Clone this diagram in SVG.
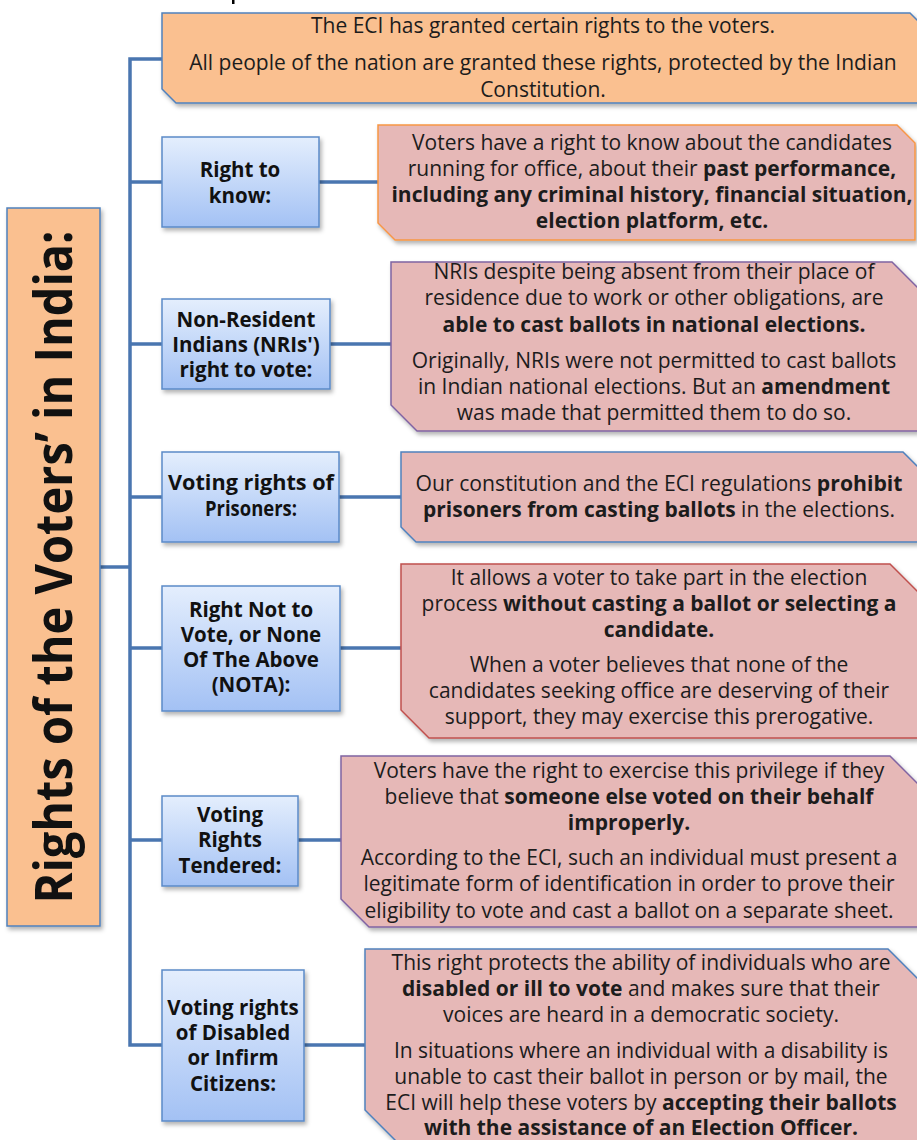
<svg xmlns="http://www.w3.org/2000/svg" width="917" height="1140" viewBox="0 0 917 1140">
<style>
.t{font-family:"Open Sans","Noto Sans","Liberation Sans",sans-serif;font-size:21px;fill:#1c1c1c;text-anchor:middle}
.b{font-weight:bold}
.lb{font-family:"Open Sans","Noto Sans","Liberation Sans",sans-serif;font-size:20.5px;font-weight:bold;fill:#111;text-anchor:middle}
.lab{fill:url(#blueg);stroke:#5B8AC8;stroke-width:1.5}
.desc{fill:#E6B8B7;stroke-width:1.5}
.con{fill:none;stroke:#4A76B0;stroke-width:3.5}
</style>
<defs>
<linearGradient id="blueg" x1="0" y1="0" x2="0" y2="1">
<stop offset="0" stop-color="#E4EEFD"/>
<stop offset="1" stop-color="#A3C1F4"/>
</linearGradient>
<filter id="sh" x="-10%" y="-10%" width="130%" height="130%">
<feDropShadow dx="2" dy="3" stdDeviation="2" flood-color="#000" flood-opacity="0.3"/>
</filter>
</defs>
<rect x="232" y="0" width="2.5" height="4" fill="#000"/>
<g id="connectors">
<path class="con" d="M162,59 H130 V1045 H162"/>
<path class="con" d="M100,567 H130"/>
<path class="con" d="M130,182 H162 M319,182 H378"/>
<path class="con" d="M130,344 H162 M330,344 H391"/>
<path class="con" d="M130,497 H162 M339,497 H401"/>
<path class="con" d="M130,648 H162 M340,648 H401"/>
<path class="con" d="M130,840 H162 M298,840 H341"/>
<path class="con" d="M304,1045 H365"/>
</g>
<g id="title">
<rect x="7" y="208" width="93" height="718" fill="#FAC090" stroke="#4F81BD" stroke-width="1.5" filter="url(#sh)"/>
<text transform="translate(72,567) rotate(-90)" font-family="'Open Sans','Noto Sans',sans-serif" font-size="52" font-weight="bold" fill="#111" text-anchor="middle" textLength="673" lengthAdjust="spacingAndGlyphs">Rights of the Voters’ in India:</text>
</g>
<g id="intro">
<polygon points="162,13 910,13 924,27 924,103 176,103 162,89" fill="#FAC090" stroke="#4F81BD" stroke-width="1.5" filter="url(#sh)"/>
<text class="t" x="543" y="33">The ECI has granted certain rights to the voters.</text>
<text class="t" x="543" y="70">All people of the nation are granted these rights, protected by the Indian</text>
<text class="t" x="543" y="96.5">Constitution.</text>
</g>
<g id="right-to-know">
<rect class="lab" x="162" y="137" width="157" height="90" filter="url(#sh)"/>
<text class="lb" x="240" y="177">Right to</text>
<text class="lb" x="240" y="203">know:</text>
</g>
<g id="right-to-know-desc">
<polygon class="desc" points="378,125 897,125 915,143 915,240 395,240 378,223" stroke="#F79646" filter="url(#sh)"/>
<text class="t" x="652" y="150">Voters have a right to know about the candidates</text>
<text class="t" x="652" y="176">running for office, about their <tspan class="b">past performance,</tspan></text>
<text class="t b" x="652" y="202">including any criminal history, financial situation,</text>
<text class="t b" x="652" y="228">election platform, etc.</text>
</g>
<g id="nri">
<rect class="lab" x="162" y="299" width="168" height="90" filter="url(#sh)"/>
<text class="lb" x="246" y="327">Non-Resident</text>
<text class="lb" x="246" y="352">Indians (NRIs')</text>
<text class="lb" x="246" y="377">right to vote:</text>
</g>
<g id="nri-desc">
<polygon class="desc" points="391,262 892,262 918,288 918,431 417,431 391,405" stroke="#8064A2" filter="url(#sh)"/>
<text class="t" x="654" y="279">NRIs despite being absent from their place of</text>
<text class="t" x="654" y="305">residence due to work or other obligations, are</text>
<text class="t b" x="654" y="332">able to cast ballots in national elections.</text>
<text class="t" x="654" y="368">Originally, NRIs were not permitted to cast ballots</text>
<text class="t" x="654" y="394">in Indian national elections. But an <tspan class="b">amendment</tspan></text>
<text class="t" x="654" y="420">was made that permitted them to do so.</text>
</g>
<g id="prisoners">
<rect class="lab" x="162" y="452" width="177" height="90" filter="url(#sh)"/>
<text class="lb" x="251" y="490" textLength="166" lengthAdjust="spacingAndGlyphs">Voting rights of</text>
<text class="lb" x="251" y="516" textLength="92" lengthAdjust="spacingAndGlyphs">Prisoners:</text>
</g>
<g id="prisoners-desc">
<polygon class="desc" points="401,452 903,452 918,467 918,542 416,542 401,527" stroke="#4F81BD" filter="url(#sh)"/>
<text class="t" x="659" y="491" textLength="487" lengthAdjust="spacingAndGlyphs">Our constitution and the ECI regulations <tspan class="b">prohibit</tspan></text>
<text class="t" x="659" y="517" textLength="472" lengthAdjust="spacingAndGlyphs"><tspan class="b">prisoners from casting ballots</tspan> in the elections.</text>
</g>
<g id="nota">
<rect class="lab" x="162" y="586" width="178" height="125" filter="url(#sh)"/>
<text class="lb" x="251" y="617">Right Not to</text>
<text class="lb" x="251" y="642">Vote, or None</text>
<text class="lb" x="251" y="667">Of The Above</text>
<text class="lb" x="251" y="692">(NOTA):</text>
</g>
<g id="nota-desc">
<polygon class="desc" points="401,564 890,564 918,592 918,738 429,738 401,710" stroke="#C0504D" filter="url(#sh)"/>
<text class="t" x="659" y="585">It allows a voter to take part in the election</text>
<text class="t" x="659" y="611">process <tspan class="b">without casting a ballot or selecting a</tspan></text>
<text class="t b" x="659" y="637">candidate.</text>
<text class="t" x="659" y="672">When a voter believes that none of the</text>
<text class="t" x="659" y="698">candidates seeking office are deserving of their</text>
<text class="t" x="659" y="724">support, they may exercise this prerogative.</text>
</g>
<g id="tendered">
<rect class="lab" x="162" y="796" width="136" height="90" filter="url(#sh)"/>
<text class="lb" x="230" y="822">Voting</text>
<text class="lb" x="230" y="847">Rights</text>
<text class="lb" x="230" y="873">Tendered:</text>
</g>
<g id="tendered-desc">
<polygon class="desc" points="341,756 890,756 918,784 918,927 369,927 341,899" stroke="#8064A2" filter="url(#sh)"/>
<text class="t" x="629" y="778">Voters have the right to exercise this privilege if they</text>
<text class="t" x="629" y="804">believe that <tspan class="b">someone else voted on their behalf</tspan></text>
<text class="t b" x="629" y="830">improperly.</text>
<text class="t" x="629" y="865">According to the ECI, such an individual must present a</text>
<text class="t" x="629" y="891">legitimate form of identification in order to prove their</text>
<text class="t" x="629" y="918">eligibility to vote and cast a ballot on a separate sheet.</text>
</g>
<g id="disabled">
<rect class="lab" x="162" y="970" width="142" height="151" filter="url(#sh)"/>
<text class="lb" x="233" y="1015">Voting rights</text>
<text class="lb" x="233" y="1040">of Disabled</text>
<text class="lb" x="233" y="1065">or Infirm</text>
<text class="lb" x="233" y="1091">Citizens:</text>
</g>
<g id="disabled-desc">
<polygon class="desc" points="365,949 888,949 918,979 918,1142 397,1142 365,1110" stroke="#4F81BD" filter="url(#sh)"/>
<text class="t" x="641" y="970">This right protects the ability of individuals who are</text>
<text class="t" x="641" y="996"><tspan class="b">disabled or ill to vote</tspan> and makes sure that their</text>
<text class="t" x="641" y="1022">voices are heard in a democratic society.</text>
<text class="t" x="641" y="1058">In situations where an individual with a disability is</text>
<text class="t" x="641" y="1084">unable to cast their ballot in person or by mail, the</text>
<text class="t" x="641" y="1110">ECI will help these voters by <tspan class="b">accepting their ballots</tspan></text>
<text class="t b" x="641" y="1135">with the assistance of an Election Officer.</text>
</g>
</svg>
